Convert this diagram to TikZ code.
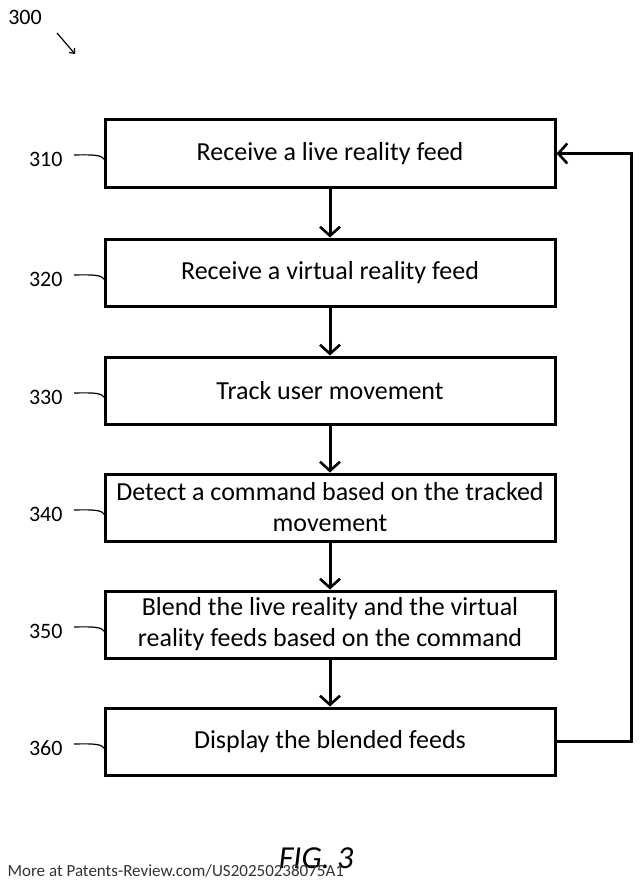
\documentclass[tikz,border=0pt]{standalone}
\usepackage{fontspec}
\setmainfont{Carlito}
\usetikzlibrary{arrows.meta}
\begin{document}
\begin{tikzpicture}[x=1pt,y=-1pt,
  stepbox/.style={draw,line width=3pt,minimum width=450pt,minimum height=67pt,align=center,font=\fontsize{26}{31}\selectfont,inner sep=2pt},
  lbl/.style={font=\fontsize{22}{26}\selectfont},
  flow/.style={line width=3pt,-{Straight Barb[length=9pt,width=20pt,line width=2.6pt]}},
  lead/.style={line width=1.2pt}]
\useasboundingbox (0,0) rectangle (642,888);
\node[stepbox] (b1) at (330,153.5) {Receive a live reality feed};
\node[stepbox] (b2) at (330,272.5) {Receive a virtual reality feed};
\node[stepbox] (b3) at (330,390.5) {Track user movement};
\node[stepbox] (b4) at (330,507.5) {Detect a command based on the tracked\\movement};
\node[stepbox] (b5) at (330,624.5) {Blend the live reality and the virtual\\reality feeds based on the command};
\node[stepbox] (b6) at (330,741.5) {Display the blended feeds};
\foreach \a/\b in {b1/b2,b2/b3,b3/b4,b4/b5,b5/b6} \draw[flow] (\a) -- (\b);
\coordinate (c1) at (631,741.5);
\coordinate (c2) at (631,153.5);
\draw[flow] (b6.east) -- (c1) -- (c2) -- (b1.east);
\foreach \n/\t/\y in {l1/310/159,l2/320/279,l3/330/397,l4/340/514,l5/350/631,l6/360/748}{
  \node[lbl,anchor=east] (\n) at (66,\y) {\t};
  \draw[lead] (74,\y-4) .. controls (95,\y-4.5) and (102,\y-4) .. (105,\y+1);
}
\node[lbl] (fig300) at (25,17) {300};
\coordinate (a300) at (75,54);
\draw[lead,-{Straight Barb[length=4pt,width=7pt]}] (57,33) -- (a300);
\node[font=\itshape\fontsize{32}{36}\selectfont] (fig) at (316,858) {FIG. 3};
\node[anchor=west,font=\fontsize{17}{20}\selectfont,text=black!80] (foot) at (4,871) {More at Patents-Review.com/US20250238075A1};
\end{tikzpicture}
\end{document}
